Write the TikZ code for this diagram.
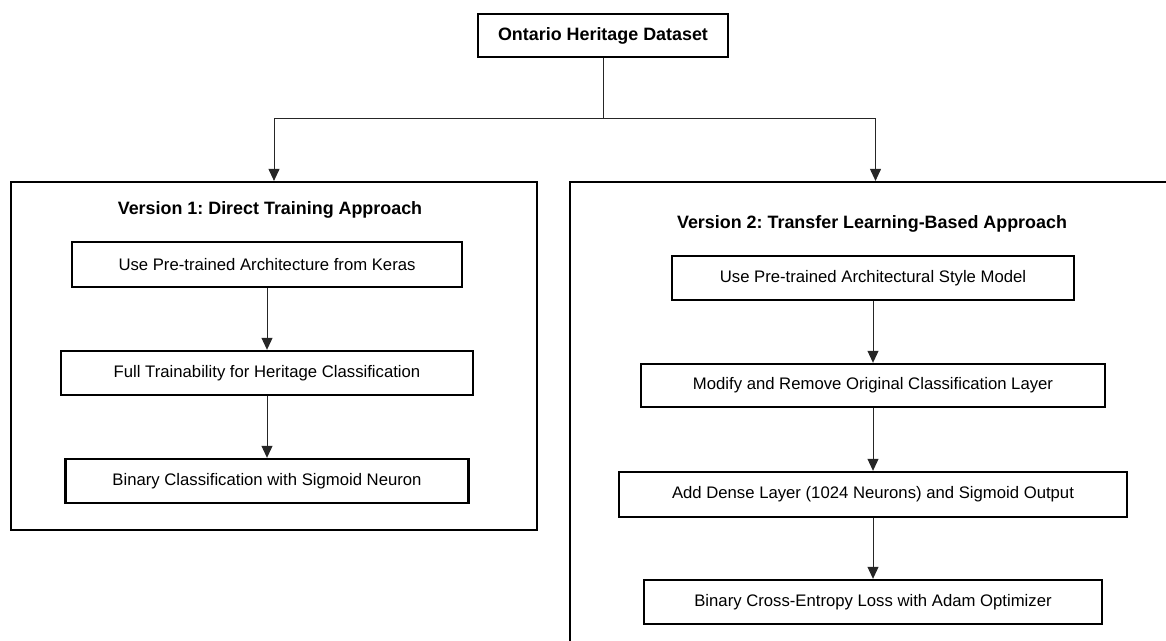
\documentclass[tikz,border=0pt]{standalone}
\usepackage{fontspec}
\setmainfont{Liberation Sans}
\usetikzlibrary{arrows.meta}
\frenchspacing
\begin{document}
\begin{tikzpicture}[x=1pt,y=-1pt,
  box/.style={draw=black, line width=2.4pt, minimum height=44pt, inner sep=0pt,
    font=\fontsize{16.7}{20}\selectfont},
  group/.style={draw=black, line width=2.2pt, inner sep=0pt},
  title/.style={font=\bfseries\fontsize{17.9}{21}\selectfont, inner sep=0pt},
  conn/.style={draw=black!85, line width=1pt, -{Triangle[length=12pt,width=11pt]}},
  link/.style={draw=black!85, line width=1pt}]
\useasboundingbox (0,0) rectangle (1166,640);
\clip (0,0) rectangle (1166,640);

% source dataset
\node[box, line width=2.8pt, minimum width=250pt, minimum height=43pt,
  font=\bfseries\fontsize{17.9}{21}\selectfont] (data) at (603,35.5) {Ontario Heritage Dataset};

% the two version containers
\node[group, minimum width=526pt, minimum height=348pt] (v1) at (274,356) {};
\node[group, minimum width=611pt, minimum height=500pt] (v2) at (875.5,432) {};

\node[title] (t1) at (270,210) {Version 1: Direct Training Approach};
\node[title] (t2) at (872,224) {Version 2: Transfer Learning-Based Approach};

% version 1 steps
\node[box, minimum width=390pt, minimum height=45pt] (a1) at (267,264.5) {Use Pre-trained Architecture from Keras};
\node[box, minimum width=412pt] (a2) at (267,373) {Full Trainability for Heritage Classification};
\node[box, minimum width=403pt] (a3) at (267,481) {Binary Classification with Sigmoid Neuron};

% version 2 steps
\node[box, minimum width=402pt] (b1) at (873,278) {Use Pre-trained Architectural Style Model};
\node[box, minimum width=464pt, minimum height=43pt] (b2) at (873,385.5) {Modify and Remove Original Classification Layer};
\node[box, minimum width=508pt, minimum height=45pt] (b3) at (873,494.5) {Add Dense Layer (1024 Neurons) and Sigmoid Output};
\node[box, minimum width=458pt] (b4) at (873,602) {Binary Cross-Entropy Loss with Adam Optimizer};

% split from the dataset into both versions
\coordinate (split) at (603,118);
\draw[link] (data.south) -- (split);
\draw[conn] (split) -| (v1.north);
\draw[conn] (split) -| (v2.north);

% step chains
\draw[conn] (a1) -- (a2);
\draw[conn] (a2) -- (a3);
\draw[conn] (b1) -- (b2);
\draw[conn] (b2) -- (b3);
\draw[conn] (b3) -- (b4);
\end{tikzpicture}
\end{document}
